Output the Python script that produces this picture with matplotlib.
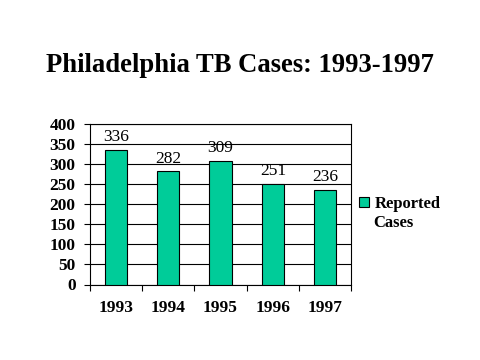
import matplotlib.pyplot as plt
import numpy as np

years = ["1993", "1994", "1995", "1996", "1997"]
cases = [336, 282, 309, 251, 236]

plt.rcParams["font.family"] = ["Liberation Serif", "DejaVu Serif"]

fig = plt.figure(figsize=(4.8, 3.6), dpi=100)
ax = fig.add_axes([89.5 / 480, 1 - 284.5 / 360, 262 / 480, 160.5 / 360])

x = np.arange(len(years))
bars = ax.bar(x, cases, width=0.42, color="#00CC99", edgecolor="black",
              linewidth=0.8, zorder=3, label="Reported")
for b, v in zip(bars, cases):
    ax.text(b.get_x() + b.get_width() / 2, v + 11, str(v), ha="center",
            va="bottom", fontsize=12.5, zorder=4)

ax.set_xlim(-0.5, len(years) - 0.5)
ax.set_ylim(0, 400)
ax.set_yticks(range(0, 401, 50))
ax.yaxis.grid(True, color="black", linewidth=0.8, zorder=0)
ax.set_xticks(x)
ax.set_xticklabels(years, fontsize=12.5, fontweight="bold")
ax.set_xticks(np.arange(-0.5, len(years)), minor=True)
ax.tick_params(axis="x", which="major", length=0, pad=11)
ax.tick_params(axis="x", which="minor", length=4, width=0.8, direction="out")
ax.tick_params(axis="y", length=4, width=0.8, labelsize=12.5, pad=6)
for lab in ax.get_yticklabels():
    lab.set_fontweight("bold")
for s in ax.spines.values():
    s.set_linewidth(0.8)

fig.text(0.5, 1 - 65 / 360, "Philadelphia TB Cases: 1993-1997", ha="center",
         va="center", fontsize=19.2, fontweight="bold")

fig.legend(loc="center left", bbox_to_anchor=(352 / 480, 1 - 204 / 360),
           frameon=False, handlelength=0.6, handleheight=0.6,
           handletextpad=0.35, borderaxespad=0,
           prop={"weight": "bold", "size": 12})
fig.text(373 / 480, 1 - 223 / 360, "Cases", ha="left", va="center",
         fontsize=12, fontweight="bold")

fig.savefig("out.png", dpi=100)
